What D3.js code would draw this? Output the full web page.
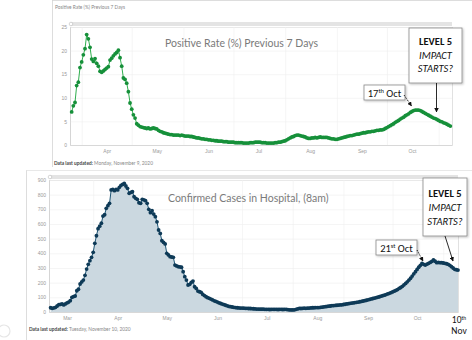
<!DOCTYPE html>
<html><head><meta charset="utf-8">
<script src="https://cdn.jsdelivr.net/npm/d3@7/dist/d3.min.js"></script>
<style>
html,body{margin:0;padding:0;background:#fff;}
svg{display:block;font-family:Lato,"Open Sans",sans-serif;}
.tick text{fill:#9a9a9a;font-size:5px;}
</style></head>
<body><svg id="c" width="472" height="340"></svg>
<script>
// ---------- data ----------
const posStart = "2020-03-26";
const posRate = [7.0,8.3,9.0,12.6,13.3,16.4,17.6,19.1,20.4,23.4,22.5,20.7,18.2,17.7,18.3,17.3,16.7,15.6,15.4,15.7,
16.0,16.3,16.6,18.0,18.4,18.9,19.3,19.6,20.1,18.5,16.7,14.2,13.9,13.1,11.3,8.9,7.6,6.4,5.7,4.5,
4.2,3.9,3.8,3.7,3.6,3.5,3.6,3.4,3.5,3.6,3.5,3.4,3.1,2.9,2.8,2.6,2.5,2.4,2.3,2.2,
2.2,2.1,2.1,2.1,2.1,2.0,2.1,2.0,1.9,1.9,1.9,1.8,1.8,1.7,1.6,1.5,1.5,1.4,1.3,1.3,
1.2,1.2,1.1,1.1,1.0,1.0,0.9,0.9,0.8,0.8,0.8,0.7,0.7,0.7,0.6,0.6,0.6,0.6,0.5,0.5,
0.5,0.5,0.5,0.4,0.4,0.4,0.4,0.5,0.5,0.5,0.6,0.6,0.6,0.6,0.5,0.5,0.5,0.4,0.4,0.4,
0.4,0.4,0.5,0.5,0.6,0.6,0.7,0.8,0.9,1.1,1.3,1.5,1.7,1.8,2.0,2.1,2.1,2.0,1.9,1.8,
1.7,1.5,1.4,1.4,1.5,1.5,1.6,1.5,1.6,1.7,1.6,1.6,1.6,1.6,1.5,1.4,1.3,1.3,1.2,1.2,
1.3,1.4,1.5,1.6,1.7,1.8,1.9,2.0,2.0,2.1,2.2,2.3,2.3,2.4,2.5,2.6,2.6,2.7,2.8,2.8,
2.9,2.9,3.0,3.1,3.1,3.2,3.2,3.3,3.5,3.7,3.9,4.1,4.3,4.5,4.8,5.0,5.2,5.5,5.7,5.9,
6.2,6.4,6.6,6.9,7.1,7.3,7.4,7.4,7.4,7.3,7.1,6.9,6.7,6.5,6.3,6.1,5.9,5.7,5.6,5.4,
5.2,5.0,4.9,4.7,4.6,4.4,4.2,4.0];
const posTicks = [0,5,10,15,20,25];
const posMonths = ["Apr","May","Jun","Jul","Aug","Sep","Oct"];

const hospStart = "2020-03-06";
const hospCases = [29,25,28,32,41,50,52,55,48,55,62,68,77,100,105,109,145,155,191,205,
218,250,293,325,350,373,407,468,520,568,585,605,654,663,707,725,741,832,836,827,
836,832,850,864,870,877,859,843,809,815,820,786,775,768,745,741,768,765,759,741,
700,677,691,668,650,615,559,536,486,475,464,400,389,377,375,373,320,314,309,307,
305,275,241,218,184,189,202,211,172,161,143,138,134,120,112,104,98,93,88,82,
76,72,68,62,58,54,50,46,42,38,36,34,32,30,29,28,27,27,26,25,
25,24,24,23,22,21,20,20,19,19,19,18,18,18,17,18,18,18,18,17,
18,18,17,18,18,16,15,14,14,15,18,21,25,24,25,26,25,26,27,28,
29,29,30,30,30,32,33,35,36,38,40,41,43,44,45,46,47,48,49,51,
53,55,57,59,61,62,64,66,68,70,72,75,77,80,83,86,89,92,95,98,
101,104,108,111,115,119,123,127,132,137,142,147,153,161,167,175,185,195,206,218,
230,245,260,275,290,305,318,332,325,320,326,332,338,345,355,346,336,338,336,336,
334,332,329,325,318,309,300,291,288,286];
const hospTicks = [0,100,200,300,400,500,600,700,800,900];
const hospMonths = ["Mar","Apr","May","Jun","Jul","Aug","Sep","Oct"];

// ---------- helpers ----------
const parse = d3.timeParse("%Y-%m-%d");
const monthIdx = {Jan:0,Feb:1,Mar:2,Apr:3,May:4,Jun:5,Jul:6,Aug:7,Sep:8,Oct:9,Nov:10,Dec:11};
const series = (start, vals) => vals.map((v,i)=>({date:d3.timeDay.offset(parse(start), i), v}));
const svg = d3.select("#c");

function defs(){
  const d = svg.append("defs");
  d.append("marker").attr("id","ah").attr("viewBox","0 0 10 10").attr("refX",9).attr("refY",5)
   .attr("markerWidth",5).attr("markerHeight",5).attr("orient","auto")
   .append("path").attr("d","M0,0L10,5L0,10z").attr("fill","#111");
  const f = d.append("filter").attr("id","sh").attr("x","-20%").attr("y","-20%").attr("width","150%").attr("height","150%");
  f.append("feDropShadow").attr("dx",1).attr("dy",1).attr("stdDeviation",0.8).attr("flood-color","#000").attr("flood-opacity",0.25);
}
defs();

function chart(cfg){
  const data = series(cfg.start, cfg.values);
  const x = d3.scaleTime().domain(cfg.xDomain.map(parse)).range([cfg.x0, cfg.x1]);
  const y = d3.scaleLinear().domain([0, d3.max(cfg.ticks)]).range([cfg.y0, cfg.y1]);
  const g = svg.append("g");

  // scroll band
  g.append("rect").attr("x", cfg.x0+1).attr("y", cfg.bandY).attr("width", cfg.x1-cfg.x0-1).attr("height",4).attr("fill","#e4e4e4");
  g.append("circle").attr("cx", cfg.x0+1).attr("cy", cfg.bandY+2).attr("r",1.8).attr("fill","#fff").attr("stroke","#bbb").attr("stroke-width",0.6);

  // horizontal grid + y labels
  const ya = g.append("g").attr("transform",`translate(${cfg.x0},0)`)
    .call(d3.axisLeft(y).tickValues(cfg.ticks).tickSize(-(cfg.x1-cfg.x0)).tickPadding(3));
  ya.select(".domain").attr("stroke","#ccc").attr("stroke-width",0.6);
  ya.selectAll(".tick line").attr("stroke","#efefef").attr("stroke-width",0.6);

  // vertical month grid
  const monthStarts = d3.timeMonth.range(d3.timeMonth.ceil(x.domain()[0]), x.domain()[1]);
  const vg = g.append("g").attr("transform",`translate(0,${cfg.y0})`)
    .call(d3.axisBottom(x).tickValues(monthStarts).tickSize(-(cfg.y0-cfg.y1)).tickFormat(""));
  vg.select(".domain").attr("stroke","#ccc").attr("stroke-width",0.6);
  vg.selectAll(".tick line").attr("stroke","#efefef").attr("stroke-width",0.6);

  // month labels (mid-month)
  const mids = cfg.months.map(m => new Date(2020, monthIdx[m], 16));
  const xa = g.append("g").attr("transform",`translate(0,${cfg.y0})`)
    .call(d3.axisBottom(x).tickValues(mids).tickSize(0).tickPadding(4).tickFormat(d3.timeFormat("%b")));
  xa.select(".domain").remove();

  if (cfg.area) {
    g.append("path").datum(data).attr("fill", cfg.area)
      .attr("d", d3.area().x(d=>x(d.date)).y0(y(0)).y1(d=>y(d.v)));
  }
  g.append("path").datum(data).attr("fill","none").attr("stroke",cfg.line).attr("stroke-width",cfg.lw)
    .attr("d", d3.line().x(d=>x(d.date)).y(d=>y(d.v)));
  g.selectAll("circle.pt").data(data).join("circle").attr("class","pt")
    .attr("cx", d=>x(d.date)).attr("cy", d=>y(d.v)).attr("r", cfg.r).attr("fill", cfg.dot);
}

// ---------- panels ----------
svg.append("line").attr("x1",52.5).attr("x2",52.5).attr("y1",0).attr("y2",167).attr("stroke","#d4d4d4").attr("stroke-width",0.8);
svg.append("line").attr("x1",52).attr("x2",472).attr("y1",0.5).attr("y2",0.5).attr("stroke","#d4d4d4").attr("stroke-width",0.8);
svg.append("line").attr("x1",26.5).attr("x2",26.5).attr("y1",170).attr("y2",340).attr("stroke","#d4d4d4").attr("stroke-width",0.8);
svg.append("line").attr("x1",26).attr("x2",472).attr("y1",170.5).attr("y2",170.5).attr("stroke","#e2e2e2").attr("stroke-width",0.8);

chart({start:posStart, values:posRate, ticks:posTicks, months:posMonths,
  xDomain:["2020-03-25","2020-11-09"], x0:70, x1:452, y0:145, y1:27, bandY:22,
  line:"#2fae4e", dot:"#16903a", lw:1, r:1.9});

chart({start:hospStart, values:hospCases, ticks:hospTicks, months:hospMonths,
  xDomain:["2020-03-05","2020-11-10"], x0:49, x1:458, y0:312, y1:180, bandY:175,
  line:"#1d5575", dot:"#0e3a57", lw:1, r:1.9, area:"#cbd8e0"});

// ---------- texts ----------
const T = (x,y,txt,o={}) => svg.append("text").attr("x",x).attr("y",y).text(txt)
  .attr("font-size",o.fs||5).attr("fill",o.fill||"#777").attr("font-weight",o.fw||400)
  .attr("font-style",o.it?"italic":"normal").attr("text-anchor",o.anchor||"start")
  .attr("font-family",o.ff||null);

T(55,9,"Positive Rate (%) Previous 7 Days",{fs:4.8,fill:"#888"});
const u1 = T(54,165,"",{fs:4.8});
u1.append("tspan").attr("font-weight",700).attr("fill","#444").text("Data last updated: ");
u1.append("tspan").attr("fill","#888").text("Monday, November 9, 2020");
const u2 = T(29,331,"",{fs:4.8});
u2.append("tspan").attr("font-weight",700).attr("fill","#444").text("Data last updated: ");
u2.append("tspan").attr("fill","#888").text("Tuesday, November 10, 2020");

T(165,47,"Positive Rate (%) Previous 7 Days",{fs:10.5,fill:"#7a7a7a"});
T(168,202,"Confirmed Cases in Hospital, (8am)",{fs:10.5,fill:"#7a7a7a"});

// annotation boxes
const CAL = "Carlito, Lato, 'Open Sans', sans-serif";
function levelBox(x,y,w,h,b1,b2,b3, ax1,ay1,ax2,ay2){
  svg.append("rect").attr("x",x).attr("y",y).attr("width",w).attr("height",h)
    .attr("fill","#fff").attr("stroke","#8a8a8a").attr("stroke-width",0.8).attr("filter","url(#sh)");
  const cx = x + w/2;
  T(cx,b1,"LEVEL 5",{fs:10.5,fw:700,fill:"#111",anchor:"middle",ff:CAL});
  T(cx,b2,"IMPACT",{fs:10.5,it:true,fill:"#111",anchor:"middle",ff:CAL});
  T(cx,b3,"STARTS?",{fs:10.5,it:true,fill:"#111",anchor:"middle",ff:CAL});
  svg.append("line").attr("x1",ax1).attr("y1",ay1).attr("x2",ax2).attr("y2",ay2)
    .attr("stroke","#111").attr("stroke-width",0.9).attr("marker-end","url(#ah)");
}
function dateBox(x,y,w,h,num,sup,rest, ax1,ay1,ax2,ay2){
  svg.append("rect").attr("x",x).attr("y",y).attr("width",w).attr("height",h)
    .attr("fill","#fff").attr("stroke","#8a8a8a").attr("stroke-width",0.8).attr("filter","url(#sh)");
  const t = T(x+w/2, y+h-3.5, "", {fs:10.5, fill:"#111", anchor:"middle", ff:CAL});
  t.append("tspan").text(num);
  t.append("tspan").attr("font-size",6.5).attr("dy",-4).text(sup);
  t.append("tspan").attr("dy",4).text(" " + rest);
  svg.append("line").attr("x1",ax1).attr("y1",ay1).attr("x2",ax2).attr("y2",ay2)
    .attr("stroke","#111").attr("stroke-width",0.9).attr("stroke-dasharray","1.2,0.8").attr("marker-end","url(#ah)");
}
levelBox(409,28,53,55,45,58.5,71.5, 436.5,83,436.5,112);
dateBox(364,85,41,15,"17","th","Oct", 404,95,411.5,106);
levelBox(423,178,44,58,196.5,211,224.5, 445,236,453,261);
dateBox(376,240,41,15,"21","st","Oct", 417,250,423,261);

const nv = T(459,323,"",{fs:9.5,fill:"#111",anchor:"middle",ff:CAL});
nv.append("tspan").text("10");
nv.append("tspan").attr("font-size",5.5).attr("dy",-3.5).text("th");
T(459,334,"Nov",{fs:9.5,fill:"#111",anchor:"middle",ff:CAL});

// faint corner icon
svg.append("circle").attr("cx",4).attr("cy",331).attr("r",6).attr("fill","none").attr("stroke","#e6e6e6").attr("stroke-width",1.2);
</script>
</body></html>
